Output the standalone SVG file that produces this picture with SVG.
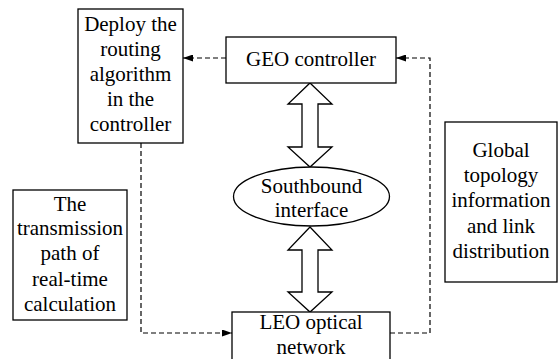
<svg xmlns="http://www.w3.org/2000/svg" width="560" height="359" viewBox="0 0 560 359">
<style>
.box{fill:#fff;stroke:#000;stroke-width:1.3}
.t{font-family:'Liberation Serif','Times New Roman',Times,'DejaVu Serif',serif;font-size:21px;fill:#000;text-anchor:middle}
.dash{fill:none;stroke:#000;stroke-width:1.2;stroke-dasharray:5,3}
.dbl{fill:#fff;stroke:#000;stroke-width:1.3;stroke-linejoin:miter}
</style>
<defs>
<marker id="ah" viewBox="0 0 10 7" refX="10" refY="3.5" markerWidth="10" markerHeight="7" markerUnits="userSpaceOnUse" orient="auto">
<path d="M0,0 L10,3.5 L0,7 Z" fill="#000"/>
</marker>
</defs>
<g id="connectors">
<line class="dash" x1="226" y1="58" x2="183" y2="58" marker-end="url(#ah)"/>
<path class="dash" d="M390,333 H430 V58 H396" marker-end="url(#ah)"/>
<path class="dash" d="M141,143 V333 H232" marker-end="url(#ah)"/>
<polygon class="dbl" points="310,83 332,104 318,104 318,147 332,147 310,167 288,147 302,147 302,104 288,104"/>
<polygon class="dbl" points="310,227 332,250 318,250 318,292 332,292 310,312 288,292 302,292 302,250 288,250"/>
</g>
<g id="deploy">
<rect class="box" x="78" y="9" width="105" height="134"/>
<text class="t" x="130.5" y="31">Deploy the</text>
<text class="t" x="130.5" y="56">routing</text>
<text class="t" x="130.5" y="81">algorithm</text>
<text class="t" x="130.5" y="106">in the</text>
<text class="t" x="130.5" y="131">controller</text>
</g>
<g id="geo">
<rect class="box" x="226" y="37" width="170" height="46"/>
<text class="t" x="311" y="66">GEO controller</text>
</g>
<g id="southbound">
<ellipse class="box" cx="311.5" cy="196.5" rx="78" ry="29.5"/>
<text class="t" x="311.5" y="193">Southbound</text>
<text class="t" x="311.5" y="217">interface</text>
</g>
<g id="leo">
<rect class="box" x="232" y="312" width="158" height="60"/>
<text class="t" x="311" y="329">LEO optical</text>
<text class="t" x="311" y="354">network</text>
</g>
<g id="transmission">
<rect class="box" x="13" y="190" width="114" height="130"/>
<text class="t" x="70" y="211">The</text>
<text class="t" x="70" y="235">transmission</text>
<text class="t" x="70" y="260">path of</text>
<text class="t" x="70" y="286">real-time</text>
<text class="t" x="70" y="311">calculation</text>
</g>
<g id="global">
<rect class="box" x="445" y="122" width="112" height="160"/>
<text class="t" x="501" y="157">Global</text>
<text class="t" x="501" y="182">topology</text>
<text class="t" x="501" y="207">information</text>
<text class="t" x="501" y="233">and link</text>
<text class="t" x="501" y="258">distribution</text>
</g>
</svg>
